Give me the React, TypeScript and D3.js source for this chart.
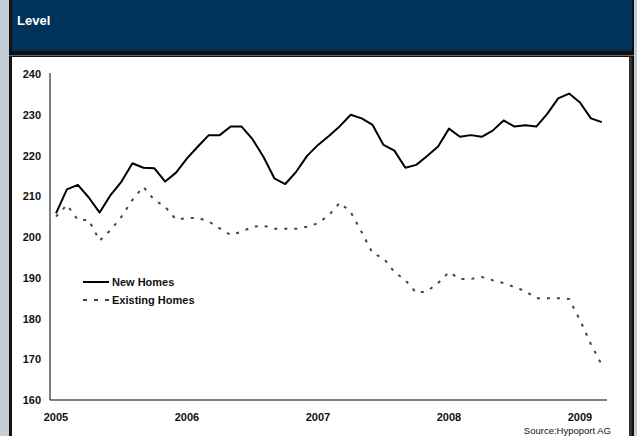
import React from "react";
import * as d3 from "d3";

const months: string[] = d3.range(51).map((i) => {
  const y = 2005 + Math.floor(i / 12);
  const m = (i % 12) + 1;
  return `${y}-${String(m).padStart(2, "0")}`;
});

const newHomes: number[] = [
  205.8, 211.7, 212.8, 209.7, 206.0, 210.3, 213.6, 218.1, 217.0, 216.9,
  213.6, 215.8, 219.3, 222.2, 225.0, 225.0, 227.1, 227.1, 224.0, 219.7,
  214.4, 213.0, 216.0, 219.9, 222.6, 224.8, 227.2, 230.0, 229.1, 227.5,
  222.6, 221.2, 217.0, 217.7, 219.9, 222.2, 226.6, 224.6, 225.0, 224.6,
  226.1, 228.6, 227.1, 227.4, 227.1, 230.2, 234.0, 235.2, 233.0, 229.1,
  228.2,
];

const existingHomes: number[] = [
  205.0, 207.9, 204.2, 204.2, 199.1, 201.7, 205.0, 209.1, 212.3, 209.1,
  207.4, 204.3, 204.6, 204.7, 203.8, 202.1, 200.5, 201.3, 202.5, 202.8,
  202.0, 202.0, 202.0, 202.5, 203.4, 205.4, 208.4, 206.1, 201.2, 196.0,
  194.8, 191.4, 189.4, 186.3, 186.7, 188.7, 191.4, 189.7, 189.7, 190.2,
  189.4, 188.7, 187.7, 186.7, 185.0, 185.0, 185.0, 184.8, 179.6, 173.7,
  168.6,
];

const yTicks: number[] = [160, 170, 180, 190, 200, 210, 220, 230, 240];
const yearLabels: string[] = ["2005", "2006", "2007", "2008", "2009"];
const seriesNames: string[] = ["New Homes", "Existing Homes"];

const W = 637;
const H = 436;
const FONT = "'Liberation Sans', Arial, sans-serif";

export default function App() {
  const x = d3.scaleLinear().domain([0, 48]).range([56, 580]);
  const y = d3.scaleLinear().domain([160, 240]).range([400, 74]);

  const line = d3
    .line<number>()
    .x((_, i) => x(i))
    .y((d) => y(d));

  return (
    <svg
      width={W}
      height={H}
      style={{ position: "absolute", left: 0, top: 0, display: "block" }}
      fontFamily={FONT}
    >
      <rect x={0} y={0} width={W} height={H} fill="#c3ced8" />
      <rect x={9} y={0} width={625} height={H} fill="#111" />
      <rect x={12} y={0} width={620} height={51} fill="#00325a" />
      <rect x={9} y={55} width={625} height={1} fill="#666" />
      <rect x={12} y={57} width={617} height={H - 57} fill="#fff" />
      <rect x={629} y={57} width={3} height={H - 57} fill="#333" />

      <text x={17} y={25} fill="#fff" fontSize={13} fontWeight="bold">
        Level
      </text>

      {/* axes */}
      <line x1={50} x2={50} y1={y(240) - 1} y2={y(160)} stroke="#000" strokeWidth={1} />
      <line x1={50} x2={607} y1={y(160)} y2={y(160)} stroke="#000" strokeWidth={1} />

      {yTicks.map((t) => (
        <text
          key={t}
          x={41}
          y={y(t) + 4}
          textAnchor="end"
          fontSize={11}
          fontWeight="bold"
          fill="#111"
        >
          {t}
        </text>
      ))}

      {yearLabels.map((lab, k) => (
        <text
          key={lab}
          x={x(k * 12)}
          y={421}
          textAnchor="middle"
          fontSize={11}
          fontWeight="bold"
          fill="#111"
        >
          {lab}
        </text>
      ))}

      <path
        d={line(existingHomes) || ""}
        fill="none"
        stroke="#444"
        strokeWidth={2}
        strokeDasharray="3,7"
      />
      <path
        d={line(newHomes) || ""}
        fill="none"
        stroke="#000"
        strokeWidth={2}
        strokeLinejoin="round"
      />

      {/* legend */}
      <line x1={83} x2={109} y1={282} y2={282} stroke="#000" strokeWidth={2} />
      <text x={112} y={286} fontSize={11} fontWeight="bold" fill="#111">
        {seriesNames[0]}
      </text>
      <line
        x1={83}
        x2={109}
        y1={300}
        y2={300}
        stroke="#444"
        strokeWidth={2}
        strokeDasharray="4,7"
      />
      <text x={112} y={304} fontSize={11} fontWeight="bold" fill="#111">
        {seriesNames[1]}
      </text>

      <text x={611} y={434} textAnchor="end" fontSize={9.5} fill="#111">
        Source:Hypoport AG
      </text>
    </svg>
  );
}
